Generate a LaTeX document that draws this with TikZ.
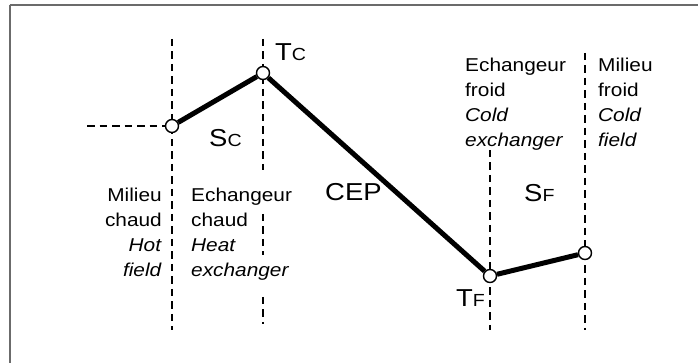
\documentclass[tikz,border=0pt]{standalone}
\usepackage{fontspec}
\setmainfont{Liberation Sans}[FakeStretch=1.12]
\newcommand\lblsc[2]{#1{\fontsize{17.5}{20}\selectfont #2}}
\begin{document}
\begin{tikzpicture}[x=1pt,y=-1pt,
  framel/.style={draw=black!58,line width=2pt},
  dashl/.style={draw=black,line width=2.3pt,dash pattern=on 7.5pt off 5pt},
  thick curve/.style={draw=black,line width=5pt},
  pt/.style={circle,draw=black,fill=white,line width=1.4pt,minimum size=13pt,inner sep=0pt},
  body/.style={inner sep=0pt,font=\fontsize{18.6}{25}\selectfont},
  lbl/.style={inner sep=0pt,anchor=base west,font=\fontsize{24.5}{28}\selectfont}]
\useasboundingbox (0,0) rectangle (699,363);
% frame
\draw[framel] (9.5,5.5) -- (698,5.5);
\draw[framel] (9.5,5.5) -- (9.5,363);
% dashed verticals
\draw[dashl] (172,39) -- (172,330);
\draw[dashl] (263,39) -- (263,170);
\draw[dashl] (263,214) -- (263,255);
\draw[dashl] (263,297) -- (263,324);
\draw[dashl] (490,150) -- (490,330);
\draw[dashl] (585,53) -- (585,330);
% points
\node[pt] (pA) at (172,126) {};
\node[pt] (pTC) at (263,73) {};
\node[pt] (pTF) at (490,276) {};
\node[pt] (pB) at (585,253) {};
\coordinate (hstart) at (87,126);
\draw[dashl] (hstart) -- (pA);
\draw[thick curve] (pA) -- (pTC) -- (pTF) -- (pB);
% labels
\node[lbl] (tc) at (275,60.7) {\lblsc{T}{C}};
\node[lbl] (sc) at (209,146.7) {\lblsc{S}{C}};
\node[lbl] (cep) at (325,201) {CEP};
\node[lbl] (sf) at (524,202) {\lblsc{S}{F}};
\node[lbl] (tf) at (456,307) {\lblsc{T}{F}};
% text blocks (base anchor = last line's baseline)
\node[body,align=right,anchor=base east] (hot) at (162,276.7) {Milieu\\chaud\\\textit{Hot}\\\textit{field}};
\node[body,align=left,anchor=base west] (hex) at (191,276.7) {Echangeur\\chaud\\\textit{Heat}\\\textit{exchanger}};
\node[body,align=left,anchor=base west] (cex) at (465,146.7) {Echangeur\\froid\\\textit{Cold}\\\textit{exchanger}};
\node[body,align=left,anchor=base west] (cold) at (598,146.7) {Milieu\\froid\\\textit{Cold}\\\textit{field}};
\end{tikzpicture}
\end{document}
